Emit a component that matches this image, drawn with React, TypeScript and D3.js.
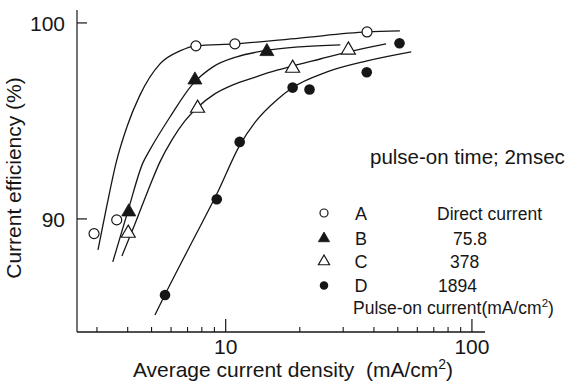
import React from "react";
import * as d3 from "d3";

// ---------- data ----------
const seriesNames = ["A", "B", "C", "D"];
const pulseLabels = ["Direct current", "75.8", "378", "1894"];
const pulseTitle = "Pulse-on current(mA/cm";
const noteText = "pulse-on time; 2msec";
const xTitle = "Average current density  (mA/cm";
const yTitle = "Current efficiency (%)";

const xMajorTicks = [10, 100];
const xMinorTicks = [3, 4, 5, 6, 7, 8, 9, 20, 30, 40, 50, 60, 70, 80, 90];
const yTicks = [90, 100];

// measured points
const aX = [2.92, 3.61, 7.57, 10.9, 37.5];
const aY = [89.25, 89.95, 98.83, 98.93, 99.54];
const bX = [4.04, 7.5, 14.7];
const bY = [90.36, 97.09, 98.54];
const cX = [4.02, 7.69, 18.7, 31.5];
const cY = [89.27, 95.65, 97.69, 98.62];
const dX = [5.67, 9.2, 11.4, 18.7, 21.9, 37.4, 50.8];
const dY = [86.12, 91.0, 93.93, 96.7, 96.6, 97.48, 98.96];

// hand-drawn fitted curves
const aCurveX = [3.03, 3.29, 3.58, 3.97, 4.49, 5.41, 6.52, 7.57, 10.9, 20.0, 37.5, 51.0];
const aCurveY = [88.42, 90.66, 92.81, 94.69, 96.33, 97.91, 98.57, 98.83, 98.93, 99.23, 99.54, 99.59];
const bCurveX = [3.48, 4.01, 4.61, 4.92, 5.94, 7.36, 8.88, 11.1, 14.2, 20.0, 29.2];
const bCurveY = [87.81, 90.41, 92.86, 93.52, 95.2, 96.89, 97.76, 98.27, 98.57, 98.78, 98.88];
const cCurveX = [3.79, 4.28, 4.83, 5.41, 6.05, 6.83, 7.64, 9.03, 10.7, 13.2, 16.3, 18.8, 24.2, 31.4, 44.8];
const cCurveY = [88.11, 89.74, 91.43, 92.91, 94.03, 95.0, 95.66, 96.38, 96.84, 97.24, 97.6, 97.81, 98.16, 98.52, 98.93];
const dCurveX = [5.16, 5.66, 7.16, 9.21, 11.43, 13.2, 16.3, 18.6, 25.8, 37.5, 56.7];
const dCurveY = [85.1, 86.12, 88.62, 91.28, 93.78, 94.95, 96.12, 96.68, 97.5, 98.06, 98.52];

// ---------- layout ----------
const W = 568;
const H = 384;
const FONT = "'Liberation Sans', Arial, Helvetica, sans-serif";
const INK = "#161616";

const x = d3.scaleLog().domain([2.49, 113]).range([77, 485]);
const y = d3.scaleLinear().domain([84.23, 100.66]).range([332, 10]);

type Shape = "openCircle" | "filledTriangle" | "openTriangle" | "filledCircle";
const shapes: Shape[] = ["openCircle", "filledTriangle", "openTriangle", "filledCircle"];

function Marker({ cx, cy, shape, scale = 1 }: { cx: number; cy: number; shape: Shape; scale?: number }) {
  if (shape === "openCircle")
    return <circle cx={cx} cy={cy} r={5 * scale} fill="#fff" stroke={INK} strokeWidth={1.2} />;
  if (shape === "filledCircle")
    return <circle cx={cx} cy={cy} r={5.3 * scale} fill={INK} stroke="none" />;
  const p = d3.symbol().type(d3.symbolTriangle).size(85 * scale * scale)() as string;
  const filled = shape === "filledTriangle";
  return (
    <path
      d={p}
      transform={`translate(${cx},${cy})`}
      fill={filled ? INK : "#fff"}
      stroke={INK}
      strokeWidth={filled ? 0.8 : 1.2}
    />
  );
}

export default function App() {
  const line = d3
    .line<[number, number]>()
    .x((d) => x(d[0]))
    .y((d) => y(d[1]))
    .curve(d3.curveMonotoneX);

  const curves = [
    [aCurveX, aCurveY],
    [bCurveX, bCurveY],
    [cCurveX, cCurveY],
    [dCurveX, dCurveY],
  ].map(([xs, ys]) => line(xs.map((v, i) => [v, ys[i]] as [number, number])) as string);

  const points = [
    [aX, aY],
    [bX, bY],
    [cX, cY],
    [dX, dY],
  ];

  const x0 = x.range()[0];
  const x1 = x.range()[1];
  const yBottom = y.range()[0];
  const yTop = y.range()[1];

  // legend layout
  const legRowY = [213, 238.5, 261.5, 285.5];
  const legSymX = 324;
  const legLetterX = 361;
  const legValueX = [437, 453, 450, 438];

  return (
    <svg
      width={W}
      height={H}
      style={{ position: "absolute", left: 0, top: 0, background: "#fff" }}
      fontFamily={FONT}
    >
      <rect width={W} height={H} fill="#fff" />
      {/* axes */}
      <line x1={x0} x2={x0} y1={yTop} y2={yBottom} stroke={INK} strokeWidth={1.2} />
      <line x1={x0} x2={x1} y1={yBottom} y2={yBottom} stroke={INK} strokeWidth={1.3} />
      {xMajorTicks.map((t) => (
        <g key={"xM" + t}>
          <line x1={x(t)} x2={x(t)} y1={yBottom} y2={yBottom - 13} stroke={INK} strokeWidth={1.2} />
          <text x={x(t)} y={yBottom + 22} textAnchor="middle" fontSize={21} fill={INK}>
            {t}
          </text>
        </g>
      ))}
      {xMinorTicks.map((t) => (
        <line key={"xm" + t} x1={x(t)} x2={x(t)} y1={yBottom} y2={yBottom - 5} stroke={INK} strokeWidth={1.1} />
      ))}
      {yTicks.map((t) => (
        <g key={"y" + t}>
          <line x1={x0} x2={x0 + 10} y1={y(t)} y2={y(t)} stroke={INK} strokeWidth={1.2} />
          <text x={65} y={y(t) + 8} textAnchor="end" fontSize={21} fill={INK}>
            {t}
          </text>
        </g>
      ))}

      {/* titles */}
      <text x={293} y={377} textAnchor="middle" fontSize={21} fill={INK} style={{ whiteSpace: "pre" }}>
        {xTitle}
        <tspan fontSize={14} dy={-8}>2</tspan>
        <tspan dy={8}>)</tspan>
      </text>
      <text
        transform="translate(21,178) rotate(-90)"
        textAnchor="middle"
        fontSize={21}
        fill={INK}
      >
        {yTitle}
      </text>

      {/* curves */}
      {curves.map((d, i) => (
        <path key={"c" + i} d={d} fill="none" stroke={INK} strokeWidth={1.3} />
      ))}

      {/* points */}
      {points.map(([xs, ys], si) =>
        xs.map((v, i) => <Marker key={`p${si}-${i}`} cx={x(v)} cy={y(ys[i])} shape={shapes[si]} />)
      )}

      {/* note */}
      <text x={370} y={164} fontSize={20.5} fill={INK}>
        {noteText}
      </text>

      {/* legend */}
      {seriesNames.map((n, i) => (
        <g key={"leg" + n}>
          <Marker cx={legSymX} cy={legRowY[i]} shape={shapes[i]} scale={0.8} />
          <text x={legLetterX} y={legRowY[i] + 6.5} textAnchor="middle" fontSize={18} fill={INK}>
            {n}
          </text>
          <text x={legValueX[i]} y={legRowY[i] + 6.5} fontSize={17.5} fill={INK}>
            {pulseLabels[i]}
          </text>
        </g>
      ))}
      <text x={353} y={314} fontSize={17.5} fill={INK}>
        {pulseTitle}
        <tspan fontSize={11.5} dy={-7}>2</tspan>
        <tspan dy={7}>)</tspan>
      </text>
    </svg>
  );
}
